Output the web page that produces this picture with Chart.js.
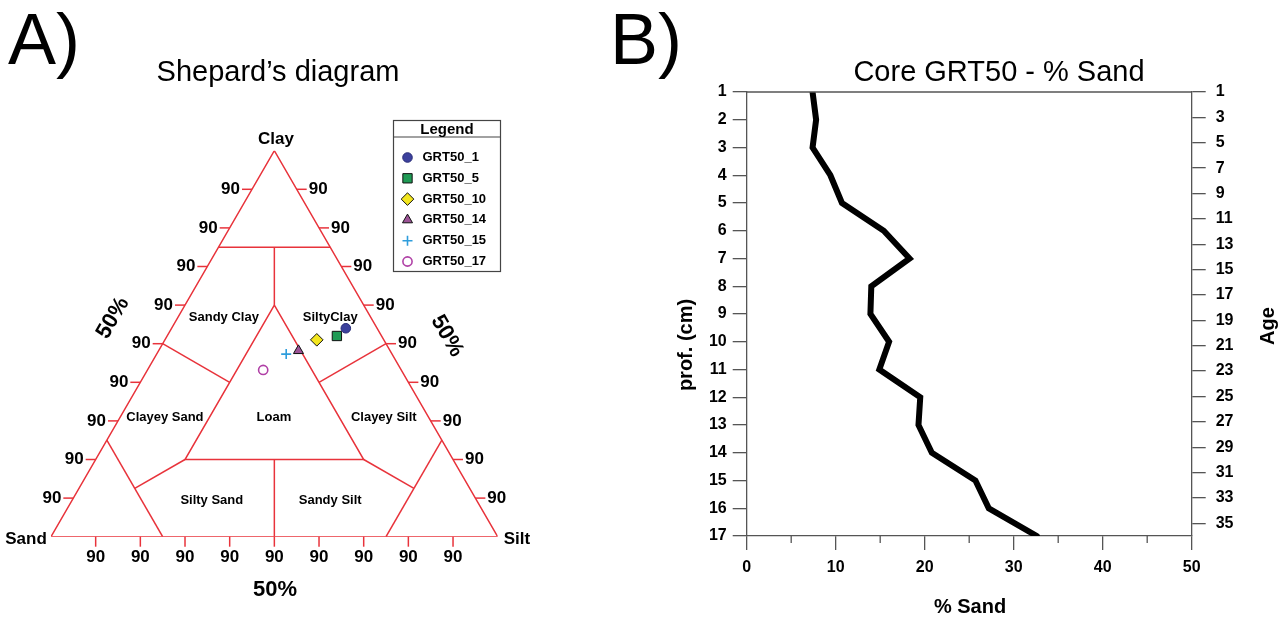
<!DOCTYPE html>
<html lang="en">
<head>
    <meta charset="UTF-8">
    <title>Shepard's diagram and Core GRT50 - % Sand</title>
    <script src="https://cdn.jsdelivr.net/npm/chart.js"></script>
    <style>
        body {
            margin: 0;
            background: #fff;
            font-family: "Liberation Sans", Arial, sans-serif;
        }
        .panel {
            position: absolute;
            top: 0;
        }
        #left { left: 0; }
        #right { left: 600px; }
    </style>
</head>
<body>
    <div class="panel" id="left"><canvas id="ternaryChart" width="600" height="620"></canvas></div>
    <div class="panel" id="right"><canvas id="sandChart" width="688" height="620"></canvas></div>
    <script>
        // ---- A) Shepard's diagram data (percent sand / silt / clay) ----
        const sampleNames = ['GRT50_1', 'GRT50_5', 'GRT50_10', 'GRT50_14', 'GRT50_15', 'GRT50_17'];
        const sampleSand = [7.0, 10.0, 15.0, 20.5, 23.7, 30.9];
        const sampleSilt = [39.0, 38.0, 34.0, 31.3, 29.0, 25.9];
        const sampleClay = [54.0, 52.0, 51.0, 48.2, 47.3, 43.2];
        const edgeTicks = [10, 20, 30, 40, 50, 60, 70, 80, 90];
        const edgeTickLabels = ['90', '90', '90', '90', '90', '90', '90', '90', '90'];

        // Shepard class boundaries, each point as [sand, silt, clay]
        const classLines = [
            [[100, 0, 0], [0, 100, 0], [0, 0, 100], [100, 0, 0]],
            [[25, 0, 75], [0, 25, 75]],
            [[12.5, 12.5, 75], [20, 20, 60]],
            [[20, 20, 60], [60, 20, 20], [20, 60, 20], [20, 20, 60]],
            [[40, 40, 20], [50, 50, 0]],
            [[75, 0, 25], [75, 25, 0]],
            [[0, 75, 25], [25, 75, 0]],
            [[50, 0, 50], [40, 20, 40]],
            [[0, 50, 50], [20, 40, 40]],
            [[75, 12.5, 12.5], [60, 20, 20]],
            [[12.5, 75, 12.5], [20, 60, 20]]
        ];

        // ---- B) Core GRT50 data ----
        const depthCm = [1, 2, 3, 4, 5, 6, 7, 8, 9, 10, 11, 12, 13, 14, 15, 16, 17];
        const sandPct = [7.4, 7.8, 7.4, 9.4, 10.7, 15.4, 18.3, 14.0, 13.9, 16.0, 14.9, 19.5, 19.3, 20.8, 25.7, 27.2, 32.6];
        const ageTicks = [1, 3, 5, 7, 9, 11, 13, 15, 17, 19, 21, 23, 25, 27, 29, 31, 33, 35];

        const FONT = '"Liberation Sans", Arial, sans-serif';
        const RED = '#e8333b';
        Chart.defaults.font.family = FONT;

        // ternary -> cartesian (x: silt + clay/2, y: clay)
        function toXY(sand, silt, clay) {
            return { x: silt + clay / 2, y: clay };
        }

        const markerStyles = [
            { pointStyle: 'circle', radius: 4.8, fill: '#3c419d', stroke: '#2a2d78', width: 1 },
            { pointStyle: 'rect', radius: 6.6, fill: '#1f9b55', stroke: '#111', width: 1 },
            { pointStyle: 'rectRot', radius: 6.3, fill: '#f3e61f', stroke: '#111', width: 1 },
            { pointStyle: 'triangle', radius: 5.8, fill: '#9c5396', stroke: '#111', width: 1 },
            { pointStyle: 'cross', radius: 5, fill: '#2e9ddc', stroke: '#2e9ddc', width: 1.6 },
            { pointStyle: 'circle', radius: 4.6, fill: '#ffffff', stroke: '#b040a6', width: 1.6 }
        ];

        const sampleSets = sampleNames.map((name, i) => ({
            label: name,
            data: [toXY(sampleSand[i], sampleSilt[i], sampleClay[i])],
            pointStyle: markerStyles[i].pointStyle,
            pointRadius: markerStyles[i].radius,
            backgroundColor: markerStyles[i].fill,
            borderColor: markerStyles[i].stroke,
            borderWidth: markerStyles[i].width
        }));

        const lineSets = classLines.map(pts => ({
            label: '',
            data: pts.map(p => toXY(p[0], p[1], p[2])),
            showLine: true,
            pointRadius: 0,
            borderColor: RED,
            borderWidth: 1.5,
            fill: false
        }));

        function text(ctx, str, x, y, font, align, rot) {
            ctx.save();
            ctx.translate(x, y);
            if (rot) ctx.rotate(rot);
            ctx.font = font;
            ctx.textAlign = align || 'center';
            ctx.textBaseline = 'middle';
            ctx.fillStyle = '#000';
            ctx.fillText(str, 0, 0);
            ctx.restore();
        }

        function seg(ctx, x1, y1, x2, y2) {
            ctx.beginPath();
            ctx.moveTo(x1, y1);
            ctx.lineTo(x2, y2);
            ctx.stroke();
        }

        // region names placed in cartesian (x%, clay%) coordinates
        const regionLabels = [
            ['Sandy Clay', 38.7, 56.9], ['SiltyClay', 62.5, 56.9],
            ['Clayey Sand', 25.5, 30.8], ['Loam', 49.9, 30.8], ['Clayey Silt', 74.5, 30.8],
            ['Silty Sand', 36.0, 9.5], ['Sandy Silt', 62.5, 9.5]
        ];

        const ternaryDecor = {
            id: 'ternaryDecor',
            afterDatasetsDraw(chart) {
                const ctx = chart.ctx;
                const sx = chart.scales.x, sy = chart.scales.y;
                const X = v => sx.getPixelForValue(v);
                const Y = v => sy.getPixelForValue(v);
                ctx.save();
                ctx.strokeStyle = RED;
                ctx.lineWidth = 1.5;
                const tf = 'bold 17px ' + FONT;
                edgeTicks.forEach((v, i) => {
                    const lab = edgeTickLabels[i];
                    // left edge (sand - clay)
                    let px = X(v / 2), py = Y(v);
                    seg(ctx, px - 10, py, px, py);
                    text(ctx, lab, px - 12, py, tf, 'right');
                    // right edge (silt - clay)
                    px = X(100 - v / 2);
                    seg(ctx, px, py, px + 10, py);
                    text(ctx, lab, px + 12, py, tf, 'left');
                    // base (sand - silt)
                    px = X(v); py = Y(0);
                    seg(ctx, px, py, px, py + 10);
                    text(ctx, lab, px, py + 21, tf, 'center');
                });
                regionLabels.forEach(r => text(ctx, r[0], X(r[1]), Y(r[2]), 'bold 13px ' + FONT));
                ctx.restore();
            },
            afterDraw(chart) {
                const ctx = chart.ctx;
                text(ctx, 'A)', 8, 44, '72px ' + FONT, 'left');
                text(ctx, 'Shepard\u2019s diagram', 278, 73, '29px ' + FONT);
                text(ctx, 'Clay', 276, 139, 'bold 17px ' + FONT);
                text(ctx, 'Sand', 26, 539, 'bold 17px ' + FONT);
                text(ctx, 'Silt', 517, 539, 'bold 17px ' + FONT);
                text(ctx, '50%', 275, 590, 'bold 22px ' + FONT);
                text(ctx, '50%', 113, 318, 'bold 22px ' + FONT, 'center', -Math.PI / 3);
                text(ctx, '50%', 447, 336, 'bold 22px ' + FONT, 'center', Math.PI / 3);

                // boxed legend
                ctx.save();
                ctx.strokeStyle = '#444';
                ctx.lineWidth = 1.2;
                ctx.strokeRect(393.5, 120.5, 107, 151);
                seg(ctx, 393.5, 137, 500.5, 137);
                ctx.restore();
                text(ctx, 'Legend', 447, 129.5, 'bold 15px ' + FONT);
                sampleNames.forEach((name, i) => {
                    const y = 157.5 + i * 20.8;
                    const m = markerStyles[i];
                    ctx.save();
                    ctx.fillStyle = m.fill;
                    ctx.strokeStyle = m.stroke;
                    ctx.lineWidth = m.width;
                    Chart.helpers.drawPoint(ctx, { pointStyle: m.pointStyle, radius: m.radius, rotation: 0, borderWidth: m.width }, 407.5, y);
                    ctx.restore();
                    text(ctx, name, 422.5, y, 'bold 13px ' + FONT, 'left');
                });
            }
        };

        new Chart(document.getElementById('ternaryChart'), {
            type: 'scatter',
            data: { datasets: sampleSets.concat(lineSets) },
            options: {
                responsive: false,
                animation: false,
                events: [],
                layout: { padding: { left: 51, right: 102.3, top: 150.7, bottom: 83.3 } },
                plugins: { legend: { display: false }, tooltip: { enabled: false } },
                scales: {
                    x: { type: 'linear', min: 0, max: 100, display: false },
                    y: { type: 'linear', min: 0, max: 100, display: false }
                }
            },
            plugins: [ternaryDecor]
        });

        // ---- B) depth profile ----
        const AXIS = '#555';
        const tickFont = { size: 16, weight: 'bold' };

        const sandDecor = {
            id: 'sandDecor',
            afterDraw(chart) {
                const ctx = chart.ctx;
                const a = chart.chartArea;
                const sx = chart.scales.x;
                ctx.save();
                ctx.strokeStyle = AXIS;
                ctx.lineWidth = 1.3;
                seg(ctx, a.left, a.top, a.right, a.top);
                // minor ticks at the 5s
                sx.ticks.forEach(t => {
                    const px = sx.getPixelForValue(t.value + 5);
                    if (t.value + 5 < sx.max) seg(ctx, px, a.bottom, px, a.bottom + 7);
                });
                ctx.restore();
                text(ctx, 'B)', 10, 44, '72px ' + FONT, 'left');
                text(ctx, 'Core GRT50 - % Sand', 399, 73, '29px ' + FONT);
                text(ctx, 'prof. (cm)', 86, 345, 'bold 20px ' + FONT, 'center', -Math.PI / 2);
                text(ctx, 'Age', 668, 326, 'bold 20px ' + FONT, 'center', -Math.PI / 2);
                text(ctx, '% Sand', 370, 607, 'bold 20px ' + FONT);
            }
        };

        new Chart(document.getElementById('sandChart'), {
            type: 'scatter',
            data: {
                datasets: [{
                    label: '% Sand',
                    data: depthCm.map((d, i) => ({ x: sandPct[i], y: d })),
                    showLine: true,
                    borderColor: '#000',
                    borderWidth: 6,
                    borderCapStyle: 'round',
                    borderJoinStyle: 'miter',
                    pointRadius: 0,
                    yAxisID: 'y'
                }]
            },
            options: {
                responsive: false,
                animation: false,
                events: [],
                layout: { padding: { top: 92, left: 0, right: 0, bottom: 0 } },
                plugins: { legend: { display: false }, tooltip: { enabled: false } },
                scales: {
                    x: {
                        type: 'linear', position: 'bottom', min: 0, max: 50,
                        ticks: { stepSize: 10, font: tickFont, color: '#000', padding: 8, maxRotation: 0 },
                        grid: { drawOnChartArea: false, tickLength: 14, color: AXIS, lineWidth: 1.3 },
                        border: { color: AXIS, width: 1.3 },
                        afterFit(s) { s.height = 84; }
                    },
                    y: {
                        type: 'linear', position: 'left', reverse: true, min: 1, max: 17,
                        ticks: { stepSize: 1, font: tickFont, color: '#000', padding: 6, autoSkip: false },
                        grid: { drawOnChartArea: false, tickLength: 14, color: AXIS, lineWidth: 1.3 },
                        border: { color: AXIS, width: 1.3 },
                        afterFit(s) { s.width = 146.7; }
                    },
                    y2: {
                        type: 'linear', position: 'right', reverse: true, min: 1, max: 36,
                        afterBuildTicks(s) { s.ticks = ageTicks.map(v => ({ value: v })); },
                        ticks: { font: tickFont, color: '#000', padding: 10, autoSkip: false },
                        grid: { drawOnChartArea: false, tickLength: 14, color: AXIS, lineWidth: 1.3 },
                        border: { color: AXIS, width: 1.3 },
                        afterFit(s) { s.width = 96.3; }
                    }
                }
            },
            plugins: [sandDecor]
        });
    </script>
</body>
</html>
